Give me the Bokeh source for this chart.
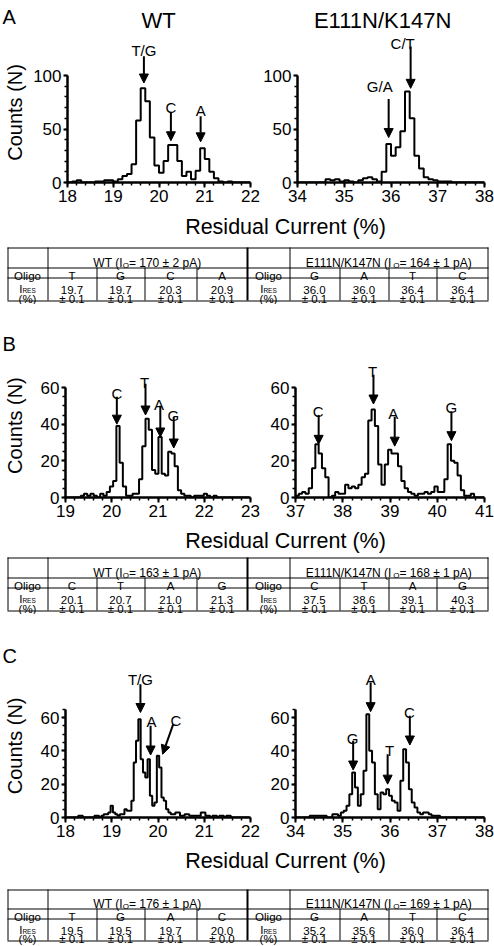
import numpy as np
from bokeh.plotting import figure
from bokeh.layouts import column, row
from bokeh.models import Range1d, SingleIntervalTicker, Arrow, NormalHead, ColumnDataSource
from bokeh.core.properties import value
from bokeh.embed import file_html
from bokeh.resources import INLINE

FONT = "Liberation Sans"

# ======================= DATA =======================
# ---- Panel A ----
A_WT_XRANGE = (18, 22)
A_WT_BIN_START, A_WT_BIN_WIDTH = 18.0, 0.1
A_WT_COUNTS = [0, 1, 2, 0, 0, 0, 1, 1, 2, 2, 1, 3, 6, 8, 17, 58, 88, 76, 42, 16,
               9, 20, 35, 35, 20, 6, 10, 3, 11, 32, 22, 10, 4, 1, 0, 1, 0, 0, 0, 0]
A_WT_PEAKS = ["T/G", "C", "A"]
A_WT_ARROW_X = [19.67, 20.26, 20.91]
A_WT_ARROW_X_END = [19.67, 20.26, 20.91]
A_WT_ARROW_TOP = [118, 65, 62]
A_WT_ARROW_TIP = [93, 39, 38]
A_WT_LABEL_X = [19.67, 20.26, 20.91]
A_WT_LABEL_Y = [123, 70, 67]

A_MUT_XRANGE = (34, 38)
A_MUT_BIN_START, A_MUT_BIN_WIDTH = 34.0, 0.1
A_MUT_COUNTS = [0, 0, 0, 0, 0, 0, 3, 2, 3, 1, 2, 1, 0, 2, 4, 5, 3, 1, 10, 36,
                25, 33, 48, 85, 60, 25, 13, 5, 3, 2, 1, 1, 1, 0, 0, 0, 0, 0, 0, 0]
A_MUT_PEAKS = ["G/A", "C/T"]
A_MUT_ARROW_X = [35.95, 36.42]
A_MUT_ARROW_X_END = [35.95, 36.42]
A_MUT_ARROW_TOP = [78, 127]
A_MUT_ARROW_TIP = [42, 88]
A_MUT_LABEL_X = [35.76, 36.25]
A_MUT_LABEL_Y = [90, 130]

A_YBOUND, A_YSTEP, A_YMINOR = 100, 50, 5

A_WT_IO = "170 ± 2"
A_MUT_IO = "164 ± 1"
A_WT_OLIGO = ["T", "G", "C", "A"]
A_WT_IRES = ["19.7", "19.7", "20.3", "20.9"]
A_WT_ERR = ["0.1", "0.1", "0.1", "0.1"]
A_MUT_OLIGO = ["G", "A", "T", "C"]
A_MUT_IRES = ["36.0", "36.0", "36.4", "36.4"]
A_MUT_ERR = ["0.1", "0.1", "0.1", "0.1"]

# ---- Panel B ----
B_WT_XRANGE = (19, 23)
B_WT_BIN_START, B_WT_BIN_WIDTH = 18.98, 0.07
B_WT_COUNTS = [0, 0, 0, 0, 0, 1, 2, 1, 2, 1, 0, 2, 1, 3, 6, 9, 39, 19, 6, 1,
               1, 2, 2, 10, 28, 43, 37, 15, 13, 33, 13, 12, 25, 24, 17, 4, 2, 1, 1, 0,
               1, 1, 1, 2, 1, 0, 1, 0, 0, 0, 0, 0, 0, 0, 0, 0, 0]
B_WT_PEAKS = ["C", "T", "A", "G"]
B_WT_ARROW_X = [20.11, 20.73, 21.05, 21.34]
B_WT_ARROW_X_END = [20.11, 20.73, 21.05, 21.34]
B_WT_ARROW_TOP = [55, 62, 50, 44]
B_WT_ARROW_TIP = [40, 45, 33, 27]
B_WT_LABEL_X = [20.11, 20.71, 21.02, 21.33]
B_WT_LABEL_Y = [57, 63, 51, 45]

B_MUT_XRANGE = (37, 41)
B_MUT_BIN_START, B_MUT_BIN_WIDTH = 37.0, 0.07
B_MUT_COUNTS = [1, 2, 3, 2, 5, 16, 29, 24, 16, 11, 0, 1, 3, 2, 2, 7, 5, 6, 5, 7,
                11, 13, 42, 48, 39, 18, 7, 18, 26, 24, 24, 17, 9, 5, 3, 2, 1, 2, 2, 3,
                2, 3, 6, 3, 3, 10, 29, 20, 19, 12, 4, 1, 1, 2, 0, 0, 0]
B_MUT_PEAKS = ["C", "T", "A", "G"]
B_MUT_ARROW_X = [37.49, 38.65, 39.10, 40.30]
B_MUT_ARROW_X_END = [37.49, 38.65, 39.10, 40.30]
B_MUT_ARROW_TOP = [45, 67, 44, 47]
B_MUT_ARROW_TIP = [29, 51, 28, 31]
B_MUT_LABEL_X = [37.48, 38.63, 39.07, 40.30]
B_MUT_LABEL_Y = [47, 69, 46, 49]

B_YBOUND, B_YSTEP, B_YMINOR = 60, 20, 4

B_WT_IO = "163 ± 1"
B_MUT_IO = "168 ± 1"
B_WT_OLIGO = ["C", "T", "A", "G"]
B_WT_IRES = ["20.1", "20.7", "21.0", "21.3"]
B_WT_ERR = ["0.1", "0.1", "0.1", "0.1"]
B_MUT_OLIGO = ["C", "T", "A", "G"]
B_MUT_IRES = ["37.5", "38.6", "39.1", "40.3"]
B_MUT_ERR = ["0.1", "0.1", "0.1", "0.1"]

# ---- Panel C ----
C_WT_XRANGE = (18, 22)
C_WT_BIN_START, C_WT_BIN_WIDTH = 18.025, 0.05
C_WT_COUNTS = [0, 0, 0, 0, 0, 1, 1, 0, 0, 0, 0, 0, 1, 1, 0, 1, 2, 2, 3, 7,
               3, 2, 1, 2, 2, 5, 4, 4, 10, 33, 46, 59, 35, 27, 24, 35, 13, 7, 9, 37,
               30, 12, 10, 5, 3, 2, 2, 3, 3, 1, 1, 2, 2, 1, 1, 1, 1, 1, 3, 3,
               1, 1, 0, 1, 1, 0, 1, 1, 0, 1, 1, 0, 0, 0, 0, 0, 0, 0, 0]
C_WT_PEAKS = ["T/G", "A", "C"]
C_WT_ARROW_X = [19.62, 19.84, 20.33]
C_WT_ARROW_X_END = [19.62, 19.84, 20.10]
C_WT_ARROW_TOP = [80, 55, 56]
C_WT_ARROW_TIP = [63, 37.5, 38]
C_WT_LABEL_X = [19.62, 19.86, 20.39]
C_WT_LABEL_Y = [82.7, 57.6, 58]

C_MUT_XRANGE = (34, 38)
C_MUT_BIN_START, C_MUT_BIN_WIDTH = 34.0, 0.06
C_MUT_COUNTS = [0, 0, 0, 0, 0, 1, 1, 1, 1, 1, 1, 0, 0, 2, 2, 1, 3, 4, 7, 14,
                27, 18, 7, 14, 28, 62, 40, 33, 14, 5, 15, 14, 17, 13, 10, 9, 4, 22, 41, 33,
                17, 9, 6, 3, 2, 3, 3, 2, 1, 1, 1, 0, 0, 0, 0, 0, 0, 0, 0, 0,
                0, 0, 0, 0, 0, 0, 0]
C_MUT_PEAKS = ["G", "A", "T", "C"]
C_MUT_ARROW_X = [35.22, 35.59, 35.95, 36.42]
C_MUT_ARROW_X_END = [35.22, 35.59, 35.95, 36.42]
C_MUT_ARROW_TOP = [46, 81, 38, 61]
C_MUT_ARROW_TIP = [28.5, 63.5, 20, 43.5]
C_MUT_LABEL_X = [35.21, 35.59, 35.99, 36.41]
C_MUT_LABEL_Y = [47.6, 82.7, 40.5, 63.2]

C_YBOUND, C_YSTEP, C_YMINOR = 65, 20, 4

C_WT_IO = "176 ± 1"
C_MUT_IO = "169 ± 1"
C_WT_OLIGO = ["T", "G", "A", "C"]
C_WT_IRES = ["19.5", "19.5", "19.7", "20.0"]
C_WT_ERR = ["0.1", "0.1", "0.1", "0.0"]
C_MUT_OLIGO = ["G", "A", "T", "C"]
C_MUT_IRES = ["35.2", "35.6", "36.0", "36.4"]
C_MUT_ERR = ["0.1", "0.1", "0.1", "0.1"]

TITLE_WT = "WT"
TITLE_MUT = "E111N/K147N"
Y_LABEL = "Counts (N)"
X_LABEL = "Residual Current (%)"

# ======================= LAYOUT (screen pixels) =======================
GUT_W = 30
L_FIG_W, L_MBL, L_MBR = 230, 35, 10
R_FIG_W, R_MBL, R_MBR = 234, 35, 10
MB_BOTTOM = 27
TABLE_W = 494
COLW = [40, 49, 48, 52, 51, 42, 50, 49, 48, 52]

AW = {' ': 278, '(': 333, ')': 333, '=': 584, '±': 584, '.': 278, '/': 278, '%': 889,
      'A': 667, 'C': 722, 'E': 667, 'G': 778, 'I': 278, 'K': 667, 'N': 722, 'O': 778,
      'R': 722, 'S': 667, 'T': 611, 'W': 944, 'p': 556}


def tw(s, size):
    return sum(AW.get(c, 556) for c in s) * size / 1000.0


def style_axis(ax, tick_out, minor_out):
    ax.axis_line_width = 2.5
    ax.axis_line_color = "black"
    ax.major_tick_line_width = 2
    ax.minor_tick_line_width = 1.5
    ax.major_tick_line_color = "black"
    ax.minor_tick_line_color = "black"
    ax.major_tick_in = 0
    ax.minor_tick_in = 0
    ax.major_tick_out = tick_out
    ax.minor_tick_out = minor_out
    ax.major_label_text_font = FONT
    ax.major_label_text_font_size = "17px"
    ax.major_label_text_color = "black"
    ax.major_label_standoff = 2


def gutter(top, height, letter, letter_base, ylabel_center):
    p = figure(width=GUT_W, height=height, x_range=Range1d(0, GUT_W), y_range=Range1d(0, height),
               x_axis_type=None, y_axis_type=None, toolbar_location=None,
               output_backend="svg", min_border=0)
    p.outline_line_color = None
    p.text(x=[2], y=[height - (letter_base - top)], text=[letter], text_font=value(FONT),
           text_font_size="20px", text_align="left", text_baseline="alphabetic",
           text_color="black")
    p.text(x=[14], y=[height - (ylabel_center - top)], text=[Y_LABEL], text_font=value(FONT),
           text_font_size="20px", text_align="center", text_baseline="middle",
           angle=np.pi / 2, text_color="black")
    return p


def hist(side, top, fb, ref_val, ref_px, xr, ybound, ystep, yminor, start, bw, counts,
         peaks, ax_x, ax_xe, ax_top, ax_tip, lab_x, lab_y, title=None, title_px=None,
         title_base=None):
    if side == "L":
        fig_w, mbl, mbr, fig_left = L_FIG_W, L_MBL, L_MBR, GUT_W
    else:
        fig_w, mbl, mbr, fig_left = R_FIG_W, R_MBL, R_MBR, GUT_W + L_FIG_W
    FL = fig_left + mbl
    FR = fig_left + fig_w - mbr
    scale = (fb - ref_px) / ref_val
    ytop = (fb - top) / scale
    height = fb - top + MB_BOTTOM

    def sx(px):
        return xr[0] + (px - FL) * (xr[1] - xr[0]) / (FR - FL)

    def sy(py):
        return (fb - py) / scale

    p = figure(width=fig_w, height=height, x_range=Range1d(*xr), y_range=Range1d(0, ytop),
               toolbar_location=None, output_backend="svg",
               min_border_left=mbl, min_border_right=mbr, min_border_top=0,
               min_border_bottom=MB_BOTTOM)
    p.outline_line_color = None
    p.grid.visible = False

    xa = p.xaxis[0]
    ya = p.yaxis[0]
    xa.ticker = SingleIntervalTicker(interval=1, num_minor_ticks=5)
    xa.bounds = xr
    ya.ticker = SingleIntervalTicker(interval=ystep, num_minor_ticks=yminor)
    ya.bounds = (0, ybound)
    style_axis(xa, 5, 3)
    style_axis(ya, 4, 3)

    edges = start + bw * np.arange(len(counts) + 1)
    xs = [edges[0]] + list(edges)
    ys = [0] + list(counts) + [0]
    p.step(x=xs, y=ys, mode="after", line_color="black", line_width=2)

    src = ColumnDataSource(dict(xs=ax_x, xe=ax_xe, ys=ax_top, ye=ax_tip))
    p.add_layout(Arrow(end=NormalHead(size=9, fill_color="black", line_color="black", line_width=1),
                       x_start="xs", y_start="ys", x_end="xe", y_end="ye", source=src,
                       line_width=2, line_color="black"))
    p.text(x=lab_x, y=lab_y, text=peaks, text_font=value(FONT), text_font_size="15px",
           text_align="center", text_baseline="alphabetic", text_color="black")

    if title is not None:
        p.text(x=[sx(title_px)], y=[sy(title_base)], text=[title], text_font=value(FONT),
               text_font_size="22px", text_align="center", text_baseline="alphabetic",
               text_color="black")
    ylabel_center = fb - ybound * scale / 2.0
    return p, height, ylabel_center


def composite(p, cx, by, parts):
    total = sum(tw(s, sz) for s, sz, dy in parts)
    x = cx - total / 2.0
    for s, sz, dy in parts:
        p.text(x=[x], y=[by + dy], text=[s], text_font=value(FONT),
               text_font_size=f"{sz}px", text_align="left", text_baseline="alphabetic",
               text_color="black")
        x += tw(s, sz)


def table(H, label_y, T, rowh, wt_io, mut_io, wt_olig, wt_val, wt_err, mut_olig, mut_val,
          mut_err):
    p = figure(width=TABLE_W, height=H, x_range=Range1d(0, TABLE_W), y_range=Range1d(H, 0),
               x_axis_type=None, y_axis_type=None, toolbar_location=None,
               output_backend="svg", min_border=0)
    p.outline_line_color = None
    p.text(x=[285], y=[label_y], text=[X_LABEL], text_font=value(FONT),
           text_font_size="21.5px", text_align="center", text_baseline="middle",
           text_color="black")
    B = [7] + list(7 + np.cumsum(COLW))
    r1, r2, r3 = T + rowh[0], T + rowh[0] + rowh[1], T + sum(rowh)
    hy = [T + 0.5, r1 + 0.5, r2 + 0.5, r3 + 0.5]
    p.segment(x0=[B[0]] * 4, x1=[B[10]] * 4, y0=hy, y1=hy, line_color="black", line_width=1)
    fx = [B[0] + 0.5, B[1] + 0.5, B[6] + 0.5, B[10] - 0.5]
    p.segment(x0=fx, x1=fx, y0=[T] * 4, y1=[r3] * 4, line_color="black", line_width=1)
    p.segment(x0=[B[5]], x1=[B[5]], y0=[T], y1=[r3], line_color="black", line_width=2)
    ix = [B[i] + 0.5 for i in (2, 3, 4, 7, 8, 9)]
    p.segment(x0=ix, x1=ix, y0=[r1] * 6, y1=[r3] * 6, line_color="black", line_width=1)

    cx = [(B[i] + B[i + 1]) / 2.0 for i in range(10)]
    hb = T + rowh[0] - 5
    composite(p, (B[1] + B[5]) / 2.0, hb,
              [("WT (I", 12, 0), ("O", 8, 2.5), ("= " + wt_io + " pA)", 12, 0)])
    composite(p, (B[6] + B[10]) / 2.0, hb,
              [(TITLE_MUT + " (I", 12, 0), ("O", 8, 2.5), ("= " + mut_io + " pA)", 12, 0)])
    olig = ["Oligo"] + wt_olig + ["Oligo"] + mut_olig
    p.text(x=cx, y=[r1 + 8.7] * 10, text=olig, text_font=value(FONT), text_font_size="11.5px",
           text_align="center", text_baseline="alphabetic", text_color="black")
    vals = wt_val + mut_val
    errs = ["± " + e for e in wt_err] + ["± " + e for e in mut_err]
    vx = [cx[i] for i in (1, 2, 3, 4, 6, 7, 8, 9)]
    l1 = r2 + 12
    l2 = r3 - 1.5
    p.text(x=vx, y=[l1] * 8, text=vals, text_font=value(FONT), text_font_size="11.5px",
           text_align="center", text_baseline="alphabetic", text_color="black")
    p.text(x=vx, y=[l2] * 8, text=errs, text_font=value(FONT), text_font_size="11.5px",
           text_align="center", text_baseline="alphabetic", text_color="black")
    for c in (cx[0], cx[5]):
        composite(p, c, l1 - 0.5, [("I", 11.5, 0), ("RES", 6.5, 1.5)])
        p.text(x=[c], y=[l2], text=["(%)"], text_font=value(FONT),
               text_font_size="11.5px", text_align="center", text_baseline="alphabetic",
               text_color="black")
    return p


# ---- Panel A ----
A_TOP, A_FB, A_REF = 0, 182, 75
a_l, a_h, a_yc = hist("L", A_TOP, A_FB, A_YBOUND, A_REF, A_WT_XRANGE, A_YBOUND, A_YSTEP, A_YMINOR,
                      A_WT_BIN_START, A_WT_BIN_WIDTH, A_WT_COUNTS, A_WT_PEAKS, A_WT_ARROW_X,
                      A_WT_ARROW_X_END, A_WT_ARROW_TOP, A_WT_ARROW_TIP, A_WT_LABEL_X,
                      A_WT_LABEL_Y, TITLE_WT, 157, 20)
a_r, _, _ = hist("R", A_TOP, A_FB, A_YBOUND, A_REF, A_MUT_XRANGE, A_YBOUND, A_YSTEP, A_YMINOR,
                 A_MUT_BIN_START, A_MUT_BIN_WIDTH, A_MUT_COUNTS, A_MUT_PEAKS, A_MUT_ARROW_X,
                 A_MUT_ARROW_X_END, A_MUT_ARROW_TOP, A_MUT_ARROW_TIP, A_MUT_LABEL_X,
                 A_MUT_LABEL_Y, TITLE_MUT, 381, 20)
a_g = gutter(A_TOP, a_h, "A", 19, a_yc)
a_t = table(95, 17, 38, [20, 10, 23], A_WT_IO, A_MUT_IO, A_WT_OLIGO, A_WT_IRES, A_WT_ERR,
            A_MUT_OLIGO, A_MUT_IRES, A_MUT_ERR)

# ---- Panel B ----
B_TOP, B_FB, B_REF = 304, 497, 387
b_l, b_h, b_yc = hist("L", B_TOP, B_FB, B_YBOUND, B_REF, B_WT_XRANGE, B_YBOUND, B_YSTEP, B_YMINOR,
                      B_WT_BIN_START, B_WT_BIN_WIDTH, B_WT_COUNTS, B_WT_PEAKS, B_WT_ARROW_X,
                      B_WT_ARROW_X_END, B_WT_ARROW_TOP, B_WT_ARROW_TIP, B_WT_LABEL_X,
                      B_WT_LABEL_Y)
b_r, _, _ = hist("R", B_TOP, B_FB, B_YBOUND, B_REF, B_MUT_XRANGE, B_YBOUND, B_YSTEP, B_YMINOR,
                 B_MUT_BIN_START, B_MUT_BIN_WIDTH, B_MUT_COUNTS, B_MUT_PEAKS, B_MUT_ARROW_X,
                 B_MUT_ARROW_X_END, B_MUT_ARROW_TOP, B_MUT_ARROW_TIP, B_MUT_LABEL_X,
                 B_MUT_LABEL_Y)
b_g = gutter(B_TOP, b_h, "B", 349, b_yc)
b_t = table(90, 16, 33, [20, 10, 23], B_WT_IO, B_MUT_IO, B_WT_OLIGO, B_WT_IRES, B_WT_ERR,
            B_MUT_OLIGO, B_MUT_IRES, B_MUT_ERR)

# ---- Panel C ----
C_TOP, C_FB, C_REF = 614, 817, 717
c_l, c_h, c_yc = hist("L", C_TOP, C_FB, 60, C_REF, C_WT_XRANGE, C_YBOUND, C_YSTEP, C_YMINOR,
                      C_WT_BIN_START, C_WT_BIN_WIDTH, C_WT_COUNTS, C_WT_PEAKS, C_WT_ARROW_X,
                      C_WT_ARROW_X_END, C_WT_ARROW_TOP, C_WT_ARROW_TIP, C_WT_LABEL_X,
                      C_WT_LABEL_Y)
c_r, _, _ = hist("R", C_TOP, C_FB, 60, C_REF, C_MUT_XRANGE, C_YBOUND, C_YSTEP, C_YMINOR,
                 C_MUT_BIN_START, C_MUT_BIN_WIDTH, C_MUT_COUNTS, C_MUT_PEAKS, C_MUT_ARROW_X,
                 C_MUT_ARROW_X_END, C_MUT_ARROW_TOP, C_MUT_ARROW_TIP, C_MUT_LABEL_X,
                 C_MUT_LABEL_Y)
c_g = gutter(C_TOP, c_h, "C", 661, c_yc)
c_t = table(102, 16, 45, [19, 10, 22], C_WT_IO, C_MUT_IO, C_WT_OLIGO, C_WT_IRES, C_WT_ERR,
            C_MUT_OLIGO, C_MUT_IRES, C_MUT_ERR)

layout = column(row(a_g, a_l, a_r, spacing=0), a_t,
                row(b_g, b_l, b_r, spacing=0), b_t,
                row(c_g, c_l, c_r, spacing=0), c_t, spacing=0)

open("out.html", "w").write(file_html(layout, INLINE))
